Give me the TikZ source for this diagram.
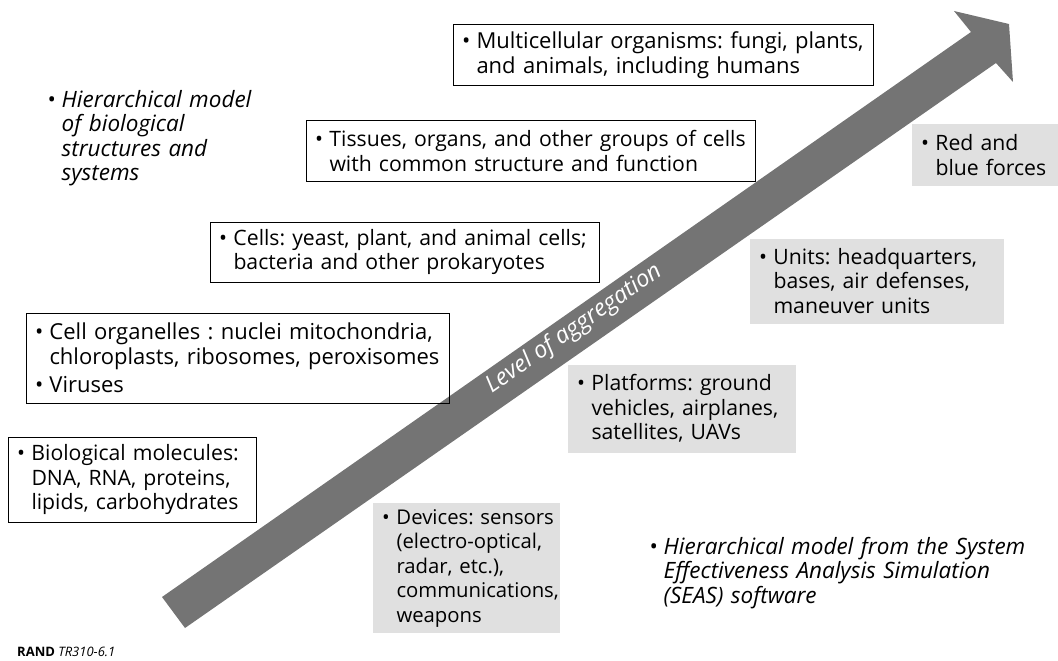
\documentclass[tikz,border=0pt]{standalone}
\usepackage{fontspec}
\setmainfont{Open Sans}
\usetikzlibrary{shapes,arrows}
\frenchspacing
\definecolor{arrowgray}{RGB}{116,116,116}
\definecolor{boxgray}{RGB}{224,224,224}
\newlength{\bulw}
\setlength{\bulw}{14.5pt}
\newcommand{\bitem}{\leftskip=\bulw\noindent\hspace*{-\bulw}\makebox[\bulw][l]{\textbullet}}
\tikzstyle{block} = [rectangle, draw, line width=0.9pt, inner xsep=9pt, inner ysep=0pt, align=left, font=\fontsize{21.2}{24.5}\selectfont]
\tikzstyle{greyblock} = [rectangle, fill=boxgray, inner xsep=9pt, inner ysep=0pt, align=left, font=\fontsize{21.2}{24.5}\selectfont]
\tikzstyle{note} = [inner sep=0pt, align=left, anchor=north west, font=\fontsize{22.5}{24.5}\selectfont\itshape]

\begin{document}
\begin{tikzpicture}[x=1pt,y=-1pt]
   \useasboundingbox (0,0) rectangle (1058,661);
   \coordinate (tailtop) at (162,597);
   \coordinate (tailbot) at (185,628);
   \coordinate (shafttop) at (971,32);
   \coordinate (shaftbot) at (996,63);
   \coordinate (barbtop) at (954,11);
   \coordinate (tip) at (1009,24);
   \coordinate (barbbot) at (1013,82);
   \fill[arrowgray] (tailtop) -- (shafttop) -- (barbtop) -- (tip) -- (barbbot) -- (shaftbot) -- (tailbot) -- cycle;
   \node[rotate=34.9, text=white, font=\fontsize{23.5}{24}\selectfont\itshape] (level) at (574,329) {Level of aggregation};

   \node[block, font=\fontsize{22}{24.5}\selectfont, minimum width=420pt, minimum height=61pt, text width=402pt] (multi) at (663,55)
      {\bitem\mbox{Multicellular organisms: fungi, plants,}\\\mbox{and animals, including humans}\par};
   \node[block, minimum width=449pt, minimum height=61pt, text width=431pt] (tissues) at (530.5,151)
      {\bitem\mbox{Tissues, organs, and other groups of cells}\\\mbox{with common structure and function}\par};
   \node[block, minimum width=389pt, minimum height=60pt, text width=371pt] (cells) at (404.5,252)
      {\bitem\mbox{Cells: yeast, plant, and animal cells;}\\\mbox{bacteria and other prokaryotes}\par};
   \node[block, font=\fontsize{22}{24.5}\selectfont, minimum width=423pt, minimum height=90pt, text width=405pt] (organelles) at (237.5,358)
      {\bitem\mbox{Cell organelles : nuclei mitochondria,}\\\mbox{chloroplasts, ribosomes, peroxisomes}\par\vspace{4pt}
       \bitem Viruses\par};
   \node[block, minimum width=248pt, minimum height=85pt, text width=230pt] (molecules) at (132,479.5)
      {\bitem\mbox{Biological molecules:}\\\mbox{DNA, RNA, proteins,}\\\mbox{lipids, carbohydrates}\par};

   \node[greyblock, minimum width=146pt, minimum height=62pt, text width=128pt] (forces) at (985,155)
      {\bitem\mbox{Red and}\\\mbox{blue forces}\par};
   \node[greyblock, minimum width=254pt, minimum height=85pt, text width=236pt] (units) at (877,281)
      {\bitem\mbox{Units: headquarters,}\\\mbox{bases, air defenses,}\\\mbox{maneuver units}\par};
   \node[greyblock, minimum width=228pt, minimum height=88pt, text width=210pt] (platforms) at (682,408.5)
      {\bitem\mbox{Platforms: ground}\\\mbox{vehicles, airplanes,}\\\mbox{satellites, UAVs}\par};
   \node[greyblock, font=\fontsize{20.3}{24.5}\selectfont, minimum width=187pt, minimum height=130pt, text width=169pt] (devices) at (466.5,568)
      {\bitem\mbox{Devices: sensors}\\\mbox{(electro-optical,}\\\mbox{radar, etc.),}\\\mbox{communications,}\\\mbox{weapons}\par};

   \node[note, text width=230pt] (biomodel) at (47,90)
      {\bitem\mbox{Hierarchical model}\\\mbox{of biological}\\\mbox{structures and}\\\mbox{systems}\par};
   \node[note, text width=400pt] (seasmodel) at (649,537)
      {\bitem\mbox{Hierarchical model from the System}\\\mbox{Effectiveness Analysis Simulation}\\\mbox{(SEAS) software}\par};

   \node[anchor=base west, inner sep=0pt, font=\fontsize{13}{15}\selectfont] (rand) at (17,656)
      {\textbf{RAND} \textit{TR310-6.1}};
\end{tikzpicture}
\end{document}
